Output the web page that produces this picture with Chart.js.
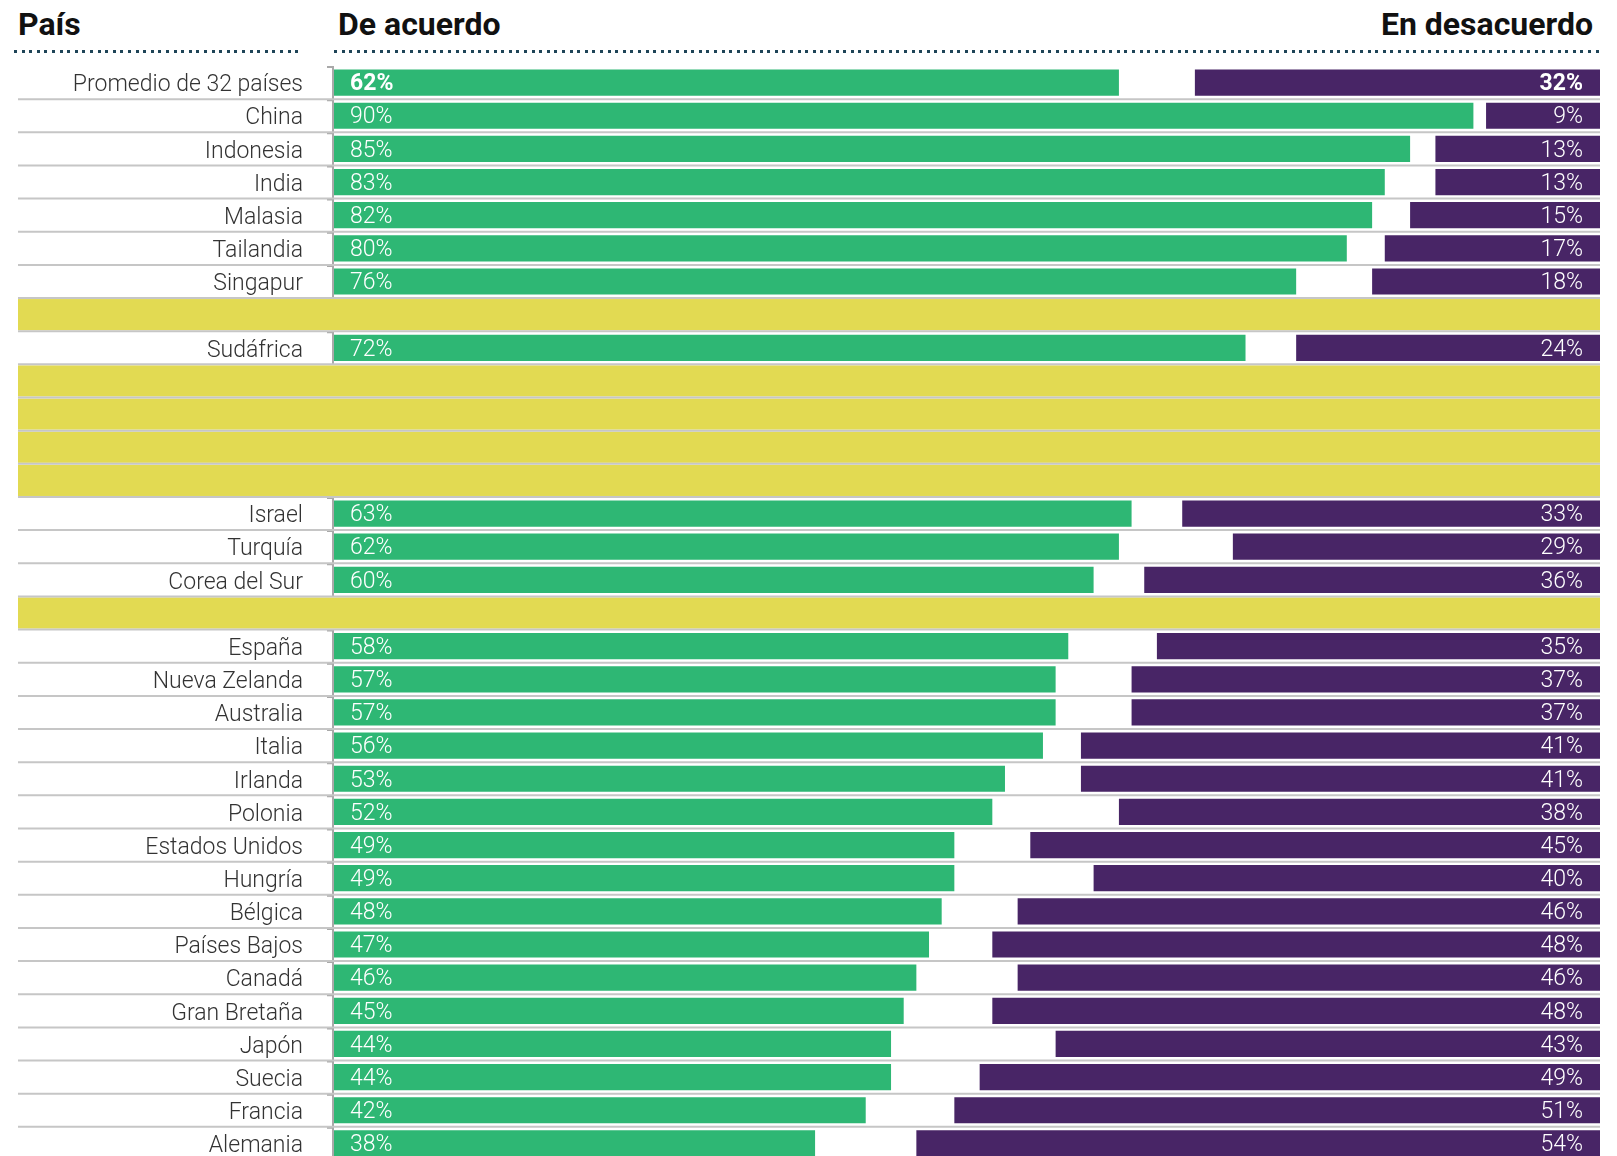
<!DOCTYPE html>
<html lang="es">
<head>
<meta charset="UTF-8">
<title>De acuerdo / En desacuerdo</title>
<script src="https://cdn.jsdelivr.net/npm/chart.js"></script>
<style>
  body { margin: 0; background: #fff; overflow: hidden; width: 1617px; height: 1156px; position: relative; font-family: Roboto, sans-serif; }
  canvas { position: absolute; left: 0; top: 0; }
  .cab { position: absolute; top: 4px; font-weight: 700; font-size: 32px; color: #111; line-height: 40px; }
  .puntos { position: absolute; top: 50px; height: 3px;
    background: repeating-linear-gradient(to right, #1e4457 0 3px, transparent 3px 7.6px); }
</style>
</head>
<body>
  <div class="cab" style="left:18px">País</div>
  <div class="cab" style="left:338px">De acuerdo</div>
  <div class="cab" style="right:24px">En desacuerdo</div>
  <div class="puntos" style="left:14px; width:284px"></div>
  <div class="puntos" style="left:334px; width:1267px"></div>
  <canvas id="grafico" width="1617" height="1160"></canvas>
</body>
</html>

<script>
  // filas vacías ('') = filas resaltadas en amarillo
  const paises = ['Promedio de 32 países', 'China', 'Indonesia', 'India', 'Malasia', 'Tailandia', 'Singapur', '',
    'Sudáfrica', '', '', '', '', 'Israel', 'Turquía', 'Corea del Sur', '',
    'España', 'Nueva Zelanda', 'Australia', 'Italia', 'Irlanda', 'Polonia', 'Estados Unidos', 'Hungría',
    'Bélgica', 'Países Bajos', 'Canadá', 'Gran Bretaña', 'Japón', 'Suecia', 'Francia', 'Alemania'];
  const deAcuerdo = [62, 90, 85, 83, 82, 80, 76, null,
    72, null, null, null, null, 63, 62, 60, null,
    58, 57, 57, 56, 53, 52, 49, 49, 48, 47, 46, 45, 44, 44, 42, 38];
  const enDesacuerdo = [32, 9, 13, 13, 15, 17, 18, null,
    24, null, null, null, null, 33, 29, 36, null,
    35, 37, 37, 41, 41, 38, 45, 40, 46, 48, 46, 48, 43, 49, 51, 54];
  const filasResaltadas = [7, 9, 10, 11, 12, 16];

  const verde = '#2eb774';
  const morado = '#482566';
  const amarillo = '#e2da52';
  const gris = '#c6c6c6';

  function banda(chart, i) {
    const y = chart.scales.y;
    const h = (y.bottom - y.top) / paises.length;
    const c = y.getPixelForValue(i);
    return [c - h / 2, c + h / 2];
  }

  const filas = {
    id: 'filas',
    beforeDatasetsDraw(chart) {
      const ctx = chart.ctx;
      const area = chart.chartArea;
      const izq = 18;
      ctx.save();
      // eje vertical y pequeñas marcas
      ctx.strokeStyle = '#a9a9a9';
      ctx.lineWidth = 2;
      paises.forEach((p, i) => {
        if (filasResaltadas.includes(i)) return;
        const [a, b] = banda(chart, i);
        ctx.beginPath();
        ctx.moveTo(327, a + 1);
        ctx.lineTo(area.left - 1, a + 1);
        ctx.lineTo(area.left - 1, b);
        ctx.stroke();
      });
      // filas amarillas
      ctx.fillStyle = amarillo;
      filasResaltadas.forEach(i => {
        const [a, b] = banda(chart, i);
        ctx.fillRect(izq, a + 1, area.right - izq, b - a - 2);
      });
      // separadores
      ctx.strokeStyle = gris;
      ctx.lineWidth = 2;
      paises.forEach((p, i) => {
        const [a, b] = banda(chart, i);
        ctx.beginPath();
        ctx.moveTo(izq, b);
        ctx.lineTo(area.right, b);
        ctx.stroke();
      });
      ctx.restore();
    },
    afterDatasetsDraw(chart) {
      const ctx = chart.ctx;
      const area = chart.chartArea;
      const y = chart.scales.y;
      ctx.save();
      ctx.fillStyle = '#ffffff';
      ctx.textBaseline = 'middle';
      paises.forEach((p, i) => {
        if (deAcuerdo[i] == null) return;
        const yc = y.getPixelForValue(i) + 2;
        ctx.font = (i === 0 ? '700' : '300') + ' 23px Roboto';
        ctx.textAlign = 'left';
        ctx.fillText(deAcuerdo[i] + '%', area.left + 16, yc);
        ctx.textAlign = 'right';
        ctx.fillText(enDesacuerdo[i] + '%', area.right - 17, yc);
      });
      ctx.restore();
    }
  };

  new Chart(document.getElementById('grafico'), {
    type: 'bar',
    data: {
      labels: paises,
      datasets: [
        {
          label: 'De acuerdo',
          data: deAcuerdo.map(v => v == null ? null : [0, v]),
          backgroundColor: verde
        },
        {
          label: 'En desacuerdo',
          data: enDesacuerdo.map(v => v == null ? null : [100 - v, 100]),
          backgroundColor: morado
        }
      ]
    },
    options: {
      indexAxis: 'y',
      responsive: false,
      animation: false,
      devicePixelRatio: 1,
      grouped: false,
      categoryPercentage: 1,
      barPercentage: 0.79,
      layout: { padding: { top: 66, right: 17, bottom: 0, left: 0 } },
      plugins: { legend: { display: false }, tooltip: { enabled: false } },
      scales: {
        x: { display: false, min: 0, max: 100 },
        y: {
          grid: { display: false, drawTicks: false },
          border: { display: false },
          ticks: {
            autoSkip: false,
            padding: 31,
            labelOffset: 3,
            color: '#333333',
            font: { family: 'Roboto', size: 23, weight: 300 }
          },
          afterFit(scale) {
            scale.width = 334;
            scale.paddingTop = 0;
            scale.paddingBottom = 0;
          }
        }
      }
    },
    plugins: [filas]
  });
</script>
